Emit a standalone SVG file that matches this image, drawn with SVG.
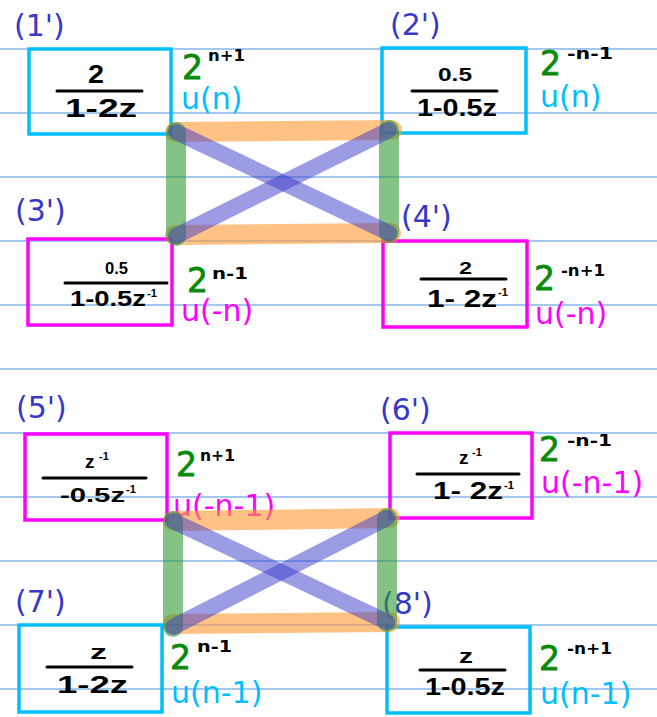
<svg xmlns="http://www.w3.org/2000/svg" width="657" height="717" viewBox="0 0 657 717">
<style>
.rule{stroke:#4a90e0;stroke-width:1.2}
.box{fill:none;stroke-width:3.5}
.cy{stroke:#00bfff}
.mg{stroke:#ff00ff}
.lbl{font-family:"DejaVu Sans",sans-serif;font-size:30px;fill:#3838c8}
.ucy{font-family:"DejaVu Sans",sans-serif;font-size:30px;fill:#00bfff}
.umg{font-family:"DejaVu Sans",sans-serif;font-size:30px;fill:#ff00ff}
.two{font-family:"DejaVu Sans",sans-serif;font-size:33px;fill:#0a8a0a;stroke:#0a8a0a;stroke-width:0.8}
.exp{font-family:"DejaVu Sans",sans-serif;font-size:16px;font-weight:bold;fill:#000}
.hw{font-family:"Liberation Sans",sans-serif;font-weight:bold;fill:#000}
.sup{font-family:"Liberation Sans",sans-serif;font-weight:bold;font-size:11px;fill:#000}
.bar{stroke:#000;stroke-width:3;stroke-linecap:round}
.c{fill:none;stroke-linecap:round}
.or{stroke:#ff9933;stroke-opacity:0.6;stroke-width:20}
.gr{stroke:#339933;stroke-opacity:0.6;stroke-width:20}
.bl{stroke:#3a3acc;stroke-opacity:0.5;stroke-width:16}
</style>
<rect width="657" height="717" fill="#fff"/>
<g id="rules">
<line class="rule" x1="0" y1="49" x2="657" y2="49"/>
<line class="rule" x1="0" y1="113" x2="657" y2="113"/>
<line class="rule" x1="0" y1="177" x2="657" y2="177"/>
<line class="rule" x1="0" y1="241" x2="657" y2="241"/>
<line class="rule" x1="0" y1="305" x2="657" y2="305"/>
<line class="rule" x1="0" y1="369" x2="657" y2="369"/>
<line class="rule" x1="0" y1="433" x2="657" y2="433"/>
<line class="rule" x1="0" y1="497" x2="657" y2="497"/>
<line class="rule" x1="0" y1="561" x2="657" y2="561"/>
<line class="rule" x1="0" y1="625" x2="657" y2="625"/>
<line class="rule" x1="0" y1="689" x2="657" y2="689"/>
</g>
<g id="n1">
<text class="lbl" x="14" y="36">(1')</text>
<rect class="box cy" x="29" y="49" width="142" height="85"/>
<text class="hw" x="88" y="83" font-size="25" textLength="16" lengthAdjust="spacingAndGlyphs">2</text>
<line class="bar" x1="57" y1="91" x2="142" y2="91"/>
<text class="hw" x="65" y="117" font-size="25" textLength="72" lengthAdjust="spacingAndGlyphs">1-2z</text>
<text class="two" x="182" y="79">2</text>
<text class="exp" x="208" y="61" textLength="37" lengthAdjust="spacingAndGlyphs">n+1</text>
<text class="ucy" x="181" y="109">u(n)</text>
</g>
<g id="n2">
<text class="lbl" x="390" y="35">(2')</text>
<rect class="box cy" x="382" y="48" width="144" height="85"/>
<text class="hw" x="438" y="81" font-size="18" textLength="34" lengthAdjust="spacingAndGlyphs">0.5</text>
<line class="bar" x1="412" y1="91" x2="497" y2="91"/>
<text class="hw" x="417" y="116" font-size="23" textLength="80" lengthAdjust="spacingAndGlyphs">1-0.5z</text>
<text class="two" x="540" y="75">2</text>
<text class="exp" x="567" y="59" textLength="46" lengthAdjust="spacingAndGlyphs">-n-1</text>
<text class="ucy" x="540" y="107">u(n)</text>
</g>
<g id="n3">
<text class="lbl" x="15" y="221">(3')</text>
<rect class="box mg" x="28" y="239" width="144" height="86"/>
<text class="hw" x="105" y="274" font-size="16" textLength="23" lengthAdjust="spacingAndGlyphs">0.5</text>
<line class="bar" x1="65" y1="283" x2="167" y2="283"/>
<text class="hw" x="70" y="306" font-size="22" textLength="76" lengthAdjust="spacingAndGlyphs">1-0.5z</text>
<text class="sup" x="147" y="297">-1</text>
<text class="two" x="187" y="292">2</text>
<text class="exp" x="212" y="279" textLength="36" lengthAdjust="spacingAndGlyphs">n-1</text>
<text class="umg" x="181" y="321">u(-n)</text>
</g>
<g id="n4">
<text class="lbl" x="401" y="227">(4')</text>
<rect class="box mg" x="383" y="241" width="144" height="86"/>
<text class="hw" x="459" y="274" font-size="17" textLength="13" lengthAdjust="spacingAndGlyphs">2</text>
<line class="bar" x1="421" y1="279" x2="506" y2="279"/>
<text class="hw" x="427" y="307" font-size="24" textLength="70" lengthAdjust="spacingAndGlyphs">1- 2z</text>
<text class="sup" x="498" y="296">-1</text>
<text class="two" x="534" y="290">2</text>
<text class="exp" x="561" y="276" textLength="44" lengthAdjust="spacingAndGlyphs">-n+1</text>
<text class="umg" x="535" y="324">u(-n)</text>
</g>
<g id="n5">
<text class="lbl" x="16" y="418">(5')</text>
<rect class="box mg" x="25" y="434" width="142" height="86"/>
<text class="hw" x="85" y="468" font-size="19">z</text>
<text class="sup" x="99" y="460">-1</text>
<line class="bar" x1="43" y1="478" x2="146" y2="478"/>
<text class="hw" x="60" y="502" font-size="21" textLength="65" lengthAdjust="spacingAndGlyphs">-0.5z</text>
<text class="sup" x="126" y="493">-1</text>
<text class="two" x="176" y="476">2</text>
<text class="exp" x="200" y="461" textLength="35" lengthAdjust="spacingAndGlyphs">n+1</text>
<text class="umg" x="173" y="516">u(-n-1)</text>
</g>
<g id="n6">
<text class="lbl" x="380" y="420">(6')</text>
<rect class="box mg" x="390" y="433" width="142" height="85"/>
<text class="hw" x="459" y="464" font-size="19">z</text>
<text class="sup" x="472" y="456">-1</text>
<line class="bar" x1="417" y1="474" x2="519" y2="474"/>
<text class="hw" x="433" y="499" font-size="23" textLength="70" lengthAdjust="spacingAndGlyphs">1- 2z</text>
<text class="sup" x="504" y="489">-1</text>
<text class="two" x="539" y="461">2</text>
<text class="exp" x="567" y="446" textLength="45" lengthAdjust="spacingAndGlyphs">-n-1</text>
<text class="umg" x="541" y="493">u(-n-1)</text>
</g>
<g id="n7">
<text class="lbl" x="15" y="612">(7')</text>
<rect class="box cy" x="19" y="625" width="143" height="87"/>
<text class="hw" x="90" y="659" font-size="20" textLength="17" lengthAdjust="spacingAndGlyphs">z</text>
<line class="bar" x1="47" y1="667" x2="132" y2="667"/>
<text class="hw" x="57" y="693" font-size="24" textLength="71" lengthAdjust="spacingAndGlyphs">1-2z</text>
<text class="two" x="170" y="669">2</text>
<text class="exp" x="197" y="652" textLength="35" lengthAdjust="spacingAndGlyphs">n-1</text>
<text class="ucy" x="171" y="703">u(n-1)</text>
</g>
<g id="n8">
<text class="lbl" x="382" y="614">(8')</text>
<rect class="box cy" x="387" y="627" width="143" height="86"/>
<text class="hw" x="459" y="663" font-size="20" textLength="14" lengthAdjust="spacingAndGlyphs">z</text>
<line class="bar" x1="420" y1="670" x2="505" y2="670"/>
<text class="hw" x="425" y="695" font-size="23" textLength="80" lengthAdjust="spacingAndGlyphs">1-0.5z</text>
<text class="two" x="539" y="670">2</text>
<text class="exp" x="567" y="654" textLength="45" lengthAdjust="spacingAndGlyphs">-n+1</text>
<text class="ucy" x="540" y="704">u(n-1)</text>
</g>
<g id="connectors">
<line class="c or" x1="175" y1="132" x2="392" y2="130"/>
<line class="c or" x1="175" y1="235" x2="391" y2="233"/>
<line class="c gr" x1="176" y1="132" x2="176" y2="236"/>
<line class="c gr" x1="389" y1="130" x2="389" y2="233"/>
<line class="c bl" x1="176" y1="132" x2="389" y2="233"/>
<line class="c bl" x1="389" y1="130" x2="176" y2="236"/>
<line class="c or" x1="173" y1="521" x2="390" y2="518"/>
<line class="c or" x1="173" y1="624" x2="390" y2="622"/>
<line class="c gr" x1="173" y1="521" x2="173" y2="627"/>
<line class="c gr" x1="387" y1="518" x2="387" y2="622"/>
<line class="c bl" x1="173" y1="521" x2="387" y2="622"/>
<line class="c bl" x1="387" y1="518" x2="173" y2="627"/>
</g>
</svg>
